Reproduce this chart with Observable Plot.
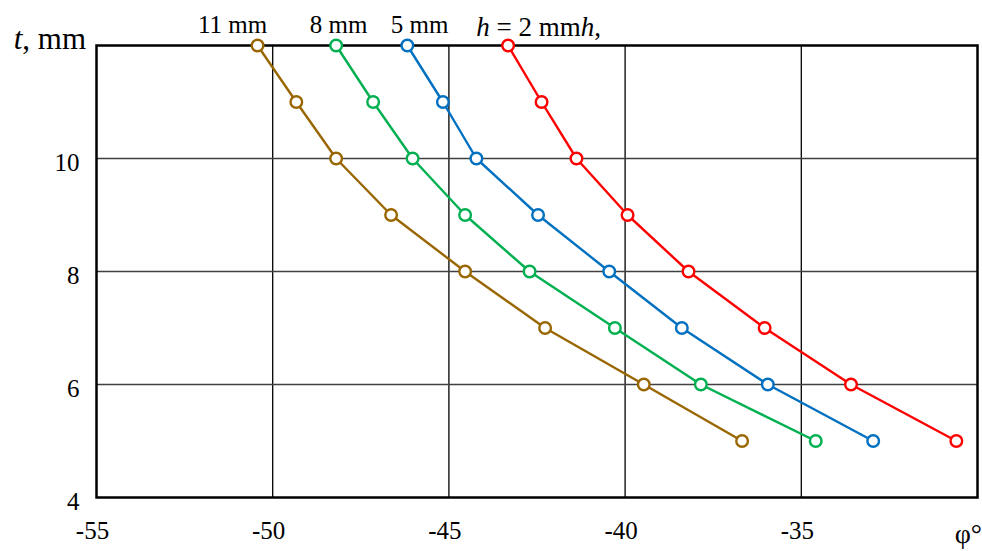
<!DOCTYPE html>
<html>
<head>
<meta charset="utf-8">
<script src="https://cdn.jsdelivr.net/npm/d3@7"></script>
<script src="https://cdn.jsdelivr.net/npm/@observablehq/plot@0.6"></script>
<style>
  html, body { margin: 0; padding: 0; background: #fff; }
  #chart svg { display: block; }
</style>
</head>
<body>
<div id="chart"></div>
<script>
// ---- data ----
const tValues = [12, 11, 10, 9, 8, 7, 6, 5];
const phiH2  = [-43.32, -42.37, -41.38, -39.93, -38.20, -36.04, -33.59, -30.60];
const phiH5  = [-46.18, -45.17, -44.22, -42.47, -40.45, -38.39, -35.95, -32.96];
const phiH8  = [-48.20, -47.15, -46.03, -44.54, -42.71, -40.29, -37.85, -34.59];
const phiH11 = [-50.43, -49.33, -48.20, -46.64, -44.54, -42.27, -39.47, -36.68];
const seriesKeys   = ["2 mm", "5 mm", "8 mm", "11 mm"];
const seriesColors = ["#FF0000", "#0070C0", "#00B050", "#996600"];
const xTicks = [-55, -50, -45, -40, -35];
const yTicks = [4, 6, 8, 10];
const xGrid = [-50, -45, -40, -35];
const yGrid = [6, 8, 10];
const labelTexts = ["5 mm", "8 mm", "11 mm"];
const labelX     = [-45.83, -48.13, -51.14];
const h2LabelX = -44.21;   // start of "h = 2 mmh," label
const topT = 12;

const seriesValues = [phiH2, phiH5, phiH8, phiH11];
const rows = [];
seriesKeys.forEach((k, i) => {
  tValues.forEach((t, j) => rows.push({series: k, t, phi: seriesValues[i][j]}));
});
const labels = labelTexts.map((text, i) => ({text, x: labelX[i], y: topT}));

const FONT = "'Liberation Serif', 'Times New Roman', serif";

const chart = Plot.plot({
  width: 982,
  height: 551,
  marginLeft: 96,
  marginRight: 5,
  marginTop: 45,
  marginBottom: 54,
  style: {fontFamily: FONT, fontSize: "25px", background: "#fff", color: "#000", overflow: "visible"},
  x: {domain: [-55, -30], label: null},
  y: {domain: [4, 12], label: null},
  color: {domain: seriesKeys, range: seriesColors},
  marks: [
    Plot.gridX(xGrid, {stroke: "#000", strokeOpacity: 1, strokeWidth: 1.3}),
    Plot.gridY(yGrid, {stroke: "#404040", strokeOpacity: 1, strokeWidth: 1.4}),
    Plot.axisX(xTicks, {tickSize: 0, tickPadding: 24, tickFormat: d => String(d), dx: -4, label: null, fontSize: 25}),
    Plot.axisY(yTicks, {tickSize: 0, tickPadding: 17, tickFormat: d => String(d), dy: 4, label: null, fontSize: 25}),
    Plot.frame({stroke: "#000", strokeWidth: 2.5}),
    Plot.line(rows, {x: "phi", y: "t", z: "series", stroke: "series", strokeWidth: 2.4}),
    Plot.dot(rows, {x: "phi", y: "t", stroke: "series", fill: "white", r: 5.8, strokeWidth: 2.4}),
    Plot.text(labels, {x: "x", y: "y", text: "text", lineAnchor: "bottom", dy: -13, fill: "#000", fontSize: 25})
  ]
});

const svg = d3.select(chart);
const xs = chart.scale("x");
const ys = chart.scale("y");

// "h = 2 mmh," label with italic h
const hl = svg.append("text")
  .attr("x", xs.apply(h2LabelX))
  .attr("y", ys.apply(topT) - 9)
  .attr("text-anchor", "start")
  .attr("font-family", FONT)
  .attr("font-size", 27)
  .attr("fill", "#000");
hl.append("tspan").attr("font-style", "italic").text("h");
hl.append("tspan").text(" = 2 mm");
hl.append("tspan").attr("font-style", "italic").text("h");
hl.append("tspan").text(",");

// y axis title "t, mm"
const yt = svg.append("text")
  .attr("x", xs.apply(-55) - 10)
  .attr("y", ys.apply(topT) + 4)
  .attr("text-anchor", "end")
  .attr("font-family", FONT)
  .attr("font-size", 31)
  .attr("fill", "#000");
yt.append("tspan").attr("font-style", "italic").text("t");
yt.append("tspan").text(", mm");

// x axis title "φ°"
svg.append("text")
  .attr("x", xs.apply(-30) + 5)
  .attr("y", ys.apply(4) + 46)
  .attr("text-anchor", "end")
  .attr("font-family", FONT)
  .attr("font-size", 28)
  .attr("fill", "#000")
  .text("φ°");

document.getElementById("chart").appendChild(chart);
</script>
</body>
</html>
